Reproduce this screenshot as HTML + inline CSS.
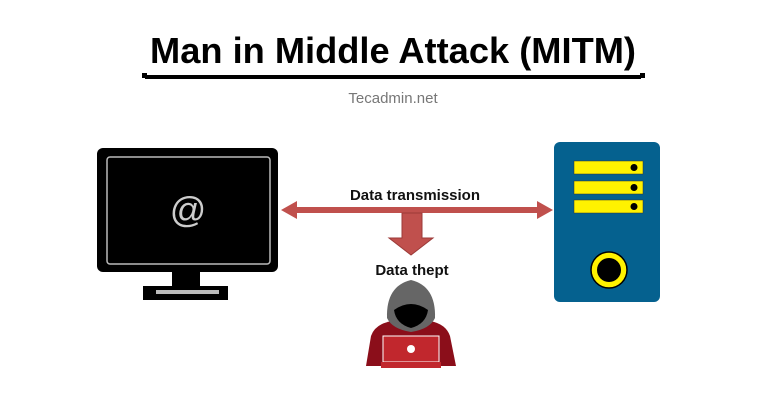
<!DOCTYPE html>
<html><head><meta charset="utf-8"><style>
body{margin:0;background:#fff;width:768px;height:415px;overflow:hidden}
</style></head><body>
<svg width="768" height="415" xmlns="http://www.w3.org/2000/svg" font-family="Liberation Sans, sans-serif">
<text x="393" y="63" text-anchor="middle" font-size="36" font-weight="bold" fill="#000" textLength="486" lengthAdjust="spacingAndGlyphs">Man in Middle Attack (MITM)</text>
<rect x="145" y="75" width="496" height="4" fill="#000"/>
<rect x="142" y="73" width="5" height="5" fill="#000"/><rect x="640" y="73" width="5" height="5" fill="#000"/>
<text x="393" y="103" text-anchor="middle" font-size="15" fill="#777">Tecadmin.net</text>
<!-- monitor -->
<rect x="97" y="148" width="181" height="124" rx="6" fill="#000"/>
<rect x="107" y="157" width="163" height="107" rx="3" fill="none" stroke="#bbb" stroke-width="1.5"/>
<text x="188" y="222" text-anchor="middle" font-size="36" fill="#ccc">@</text>
<rect x="172" y="271" width="28" height="16" fill="#000"/>
<rect x="143" y="286" width="85" height="14" fill="#000"/>
<rect x="156" y="290" width="63" height="4" fill="#bbb"/>
<!-- server -->
<rect x="554" y="142" width="106" height="160" rx="6" fill="#05618f"/>
<g fill="#fff200" stroke="#333" stroke-width="0.5">
<rect x="574" y="161" width="69" height="13"/><rect x="574" y="181" width="69" height="13"/><rect x="574" y="200" width="69" height="13"/></g>
<circle cx="634" cy="167.5" r="3.5"/><circle cx="634" cy="187.5" r="3.5"/><circle cx="634" cy="206.5" r="3.5"/>
<circle cx="609" cy="270" r="18" fill="#fff200" stroke="#000" stroke-width="1.5"/>
<circle cx="609" cy="270" r="12" fill="#000"/>
<!-- arrows -->
<text x="415" y="200" text-anchor="middle" font-size="15" font-weight="bold" fill="#111">Data transmission</text>
<path d="M281 210 L297 201 L297 207 L537 207 L537 201 L553 210 L537 219 L537 213 L297 213 L297 219 Z" fill="#c0504d"/>
<path d="M402 213 L422 213 L422 238 L433 238 L411 255 L389 238 L402 238 Z" fill="#c0504d" stroke="#9b3a38" stroke-width="1"/>
<text x="412" y="275" text-anchor="middle" font-size="15" font-weight="bold" fill="#111">Data thept</text>
<!-- hacker -->
<path d="M366 366 L371 336 Q375 324 392 321 L430 321 Q446 324 450 336 L456 366 Z" fill="#8b0e1a"/>
<path d="M387 318 Q386 286 411 280 Q436 286 435 318 Q430 329 411 332 Q392 329 387 318 Z" fill="#666"/>
<path d="M394 310 Q411 298 428 310 Q426 324 411 328 Q396 324 394 310 Z" fill="#000"/>
<rect x="383" y="336" width="56" height="26" fill="#c1272d" stroke="#fff" stroke-width="1"/>
<rect x="381" y="362" width="60" height="6" fill="#c1272d"/>
<circle cx="411" cy="349" r="4" fill="#fff"/>
</svg>
</body></html>
